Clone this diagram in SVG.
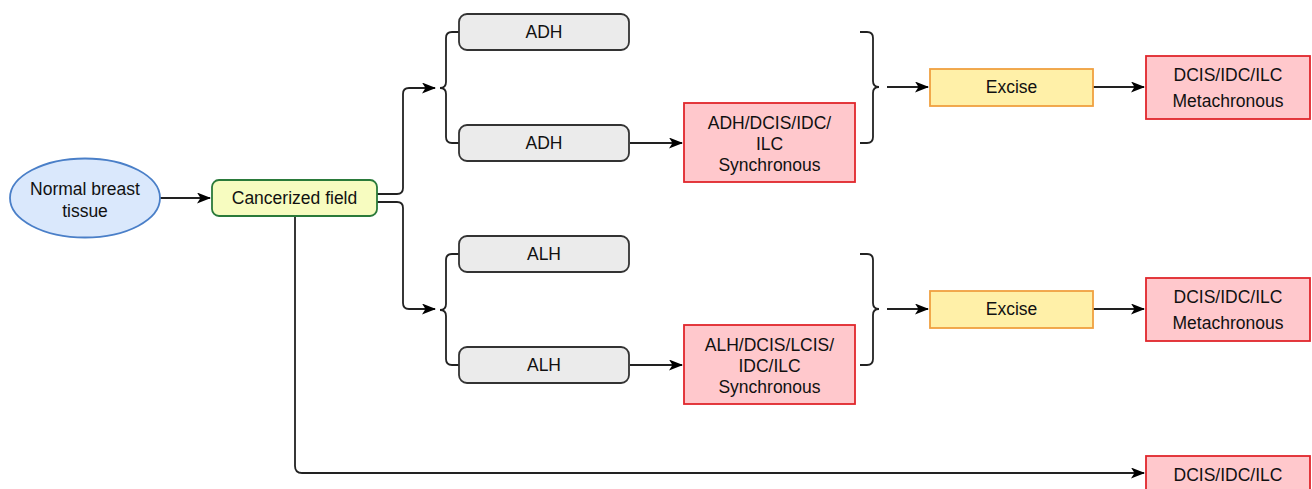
<svg xmlns="http://www.w3.org/2000/svg" width="1312" height="489" viewBox="0 0 1312 489">
<defs>
<marker id="ah" markerWidth="14" markerHeight="11" refX="13" refY="5.5" orient="auto" markerUnits="userSpaceOnUse">
<path d="M0,0 L14,5.5 L0,11 L3.5,5.5 Z" fill="#000"/>
</marker>
<style>
text{font-family:"Liberation Sans",Arial,sans-serif;font-size:17.5px;fill:#111;text-anchor:middle}
.c{fill:none;stroke:#222;stroke-width:1.8}
.br{fill:none;stroke:#222;stroke-width:1.8}
.gray{fill:#ebebeb;stroke:#333;stroke-width:1.8}
.red{fill:#ffc8cc;stroke:#e0262c;stroke-width:1.8}
.yel{fill:#fff0a8;stroke:#f0a040;stroke-width:1.8}
</style>
</defs>
<rect width="1312" height="489" fill="#fff"/>
<g id="connectors">
<path class="c" d="M160,198 L210,198" marker-end="url(#ah)"/>
<path class="c" d="M377,194 L397,194 Q403,194 403,188 L403,94 Q403,88 409,88 L435,88" marker-end="url(#ah)"/>
<path class="c" d="M377,202 L397,202 Q403,202 403,208 L403,303 Q403,309 409,309 L435,309" marker-end="url(#ah)"/>
<path class="c" d="M295,216 L295,466 Q295,473 302,473 L1144,473" marker-end="url(#ah)"/>
<path class="c" d="M630,143 L682,143" marker-end="url(#ah)"/>
<path class="c" d="M630,365 L682,365" marker-end="url(#ah)"/>
<path class="c" d="M887,87 L928,87" marker-end="url(#ah)"/>
<path class="c" d="M1093,87 L1144,87" marker-end="url(#ah)"/>
<path class="c" d="M887,309 L928,309" marker-end="url(#ah)"/>
<path class="c" d="M1093,309 L1144,309" marker-end="url(#ah)"/>
<path class="br" d="M459,32 L452,32 Q446,32 446,38 L446,82 Q446,88 440,88 Q446,88 446,94 L446,137 Q446,143 452,143 L459,143"/>
<path class="br" d="M459,254 L452,254 Q446,254 446,260 L446,304 Q446,310 440,310 Q446,310 446,316 L446,359 Q446,365 452,365 L459,365"/>
<path class="br" d="M860,32 L867,32 Q873,32 873,38 L873,81 Q873,87 879,87 Q873,87 873,93 L873,137 Q873,143 867,143 L860,143"/>
<path class="br" d="M860,254 L867,254 Q873,254 873,260 L873,303 Q873,309 879,309 Q873,309 873,315 L873,359 Q873,365 867,365 L860,365"/>
</g>
<g id="normal">
<ellipse cx="85" cy="198" rx="75" ry="39.5" fill="#dae8fc" stroke="#4a7fc8" stroke-width="1.8"/>
<text x="85" y="195">Normal breast</text>
<text x="85" y="217">tissue</text>
</g>
<g id="field">
<rect x="212" y="180" width="165" height="36" rx="7" fill="#f7fcc0" stroke="#2a7a3a" stroke-width="1.8"/>
<text x="294.5" y="204">Cancerized field</text>
</g>
<g id="adh1"><rect class="gray" x="459" y="14" width="170" height="36" rx="8"/><text x="544" y="38">ADH</text></g>
<g id="adh2"><rect class="gray" x="459" y="125" width="170" height="36" rx="8"/><text x="544" y="149">ADH</text></g>
<g id="alh1"><rect class="gray" x="459" y="236" width="170" height="36" rx="8"/><text x="544" y="260">ALH</text></g>
<g id="alh2"><rect class="gray" x="459" y="347" width="170" height="36" rx="8"/><text x="544" y="371">ALH</text></g>
<g id="sync1"><rect class="red" x="684" y="103" width="171" height="79"/>
<text x="769.5" y="129">ADH/DCIS/IDC/</text><text x="769.5" y="150">ILC</text><text x="769.5" y="171">Synchronous</text></g>
<g id="sync2"><rect class="red" x="684" y="325" width="171" height="79"/>
<text x="769.5" y="351">ALH/DCIS/LCIS/</text><text x="769.5" y="372">IDC/ILC</text><text x="769.5" y="393">Synchronous</text></g>
<g id="excise1"><rect class="yel" x="930" y="69" width="163" height="37"/><text x="1011.5" y="93">Excise</text></g>
<g id="excise2"><rect class="yel" x="930" y="291" width="163" height="37"/><text x="1011.5" y="315">Excise</text></g>
<g id="meta1"><rect class="red" x="1146" y="56" width="164" height="63"/>
<text x="1228" y="81">DCIS/IDC/ILC</text><text x="1228" y="107">Metachronous</text></g>
<g id="meta2"><rect class="red" x="1146" y="278" width="164" height="63"/>
<text x="1228" y="303">DCIS/IDC/ILC</text><text x="1228" y="329">Metachronous</text></g>
<g id="bottom"><rect class="red" x="1146" y="456" width="164" height="45"/>
<text x="1228" y="481">DCIS/IDC/ILC</text></g>
</svg>
